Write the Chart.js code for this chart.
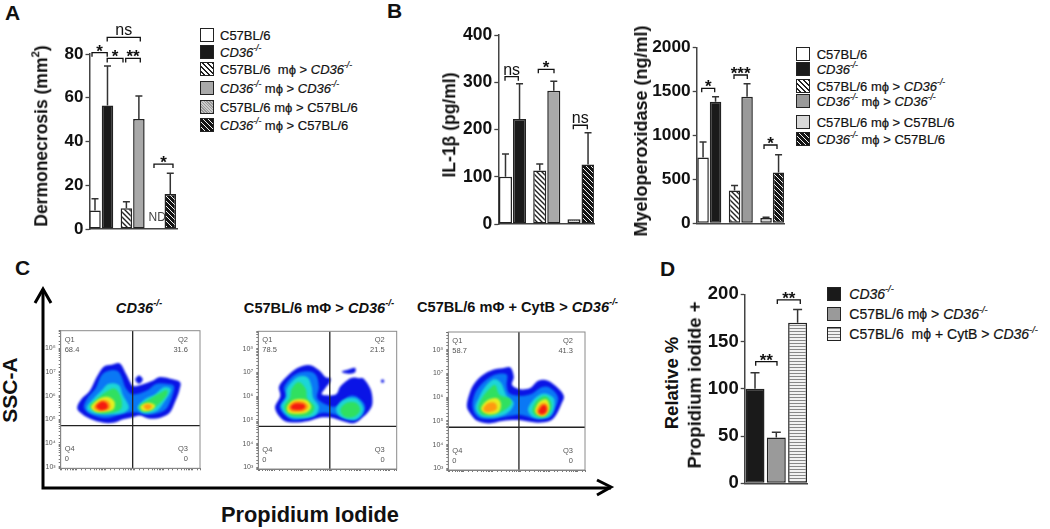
<!DOCTYPE html>
<html lang="en">
<head>
<meta charset="utf-8" />
<script src="https://cdn.jsdelivr.net/npm/chart.js@4"></script>
<style>
  html, body { margin: 0; padding: 0; background: #fff; }
  body { position: relative; width: 1050px; height: 529px; overflow: hidden; font-family: "Liberation Sans", Arial, sans-serif; color: #111; }
  canvas { position: absolute; }
  .t { position: absolute; white-space: nowrap; line-height: 1; }
  .panel { font-size: 21px; font-weight: bold; }
  .ytitle { font-weight: bold; transform: translate(-50%, -50%) rotate(-90deg); }
  .ptitle { font-size: 14.6px; font-weight: bold; transform: translate(-50%, -50%); }
  .leg { font-size: 13px; transform: translateY(-50%); -webkit-text-stroke: 0.2px #111; }
  .sw { position: absolute; width: 14px; height: 14px; box-sizing: border-box; border: 1.5px solid #222; transform: translateY(-50%); }
  sup { font-size: 65%; line-height: 0; position: relative; top: -0.1em; vertical-align: super; }
  svg { position: absolute; left: 0; top: 0; }
</style>
</head>
<body>
<svg width="1050" height="529">
  <path d="M43 289V488H611" fill="none" stroke="#000" stroke-width="3"/>
  <path d="M35 303L43 289L51 303M597 480L611 487L597 495" fill="none" stroke="#000" stroke-width="3"/>
</svg>
<script>
// bar values, groups of two bars (left / right)
var groups = ['wild type recipient', 'CD36 recipient', 'mixed'];
var necrosisLeft = [8.5, 9.5, 0];
var necrosisRight = [56.5, 50.3, 16];
var necrosisLeftErr = [5.3, 3, 0];
var necrosisRightErr = [18, 10.5, 9.5];
var il1Left = [100, 113, 10];
var il1Right = [222, 282, 126];
var il1LeftErr = [48, 14, 0];
var il1RightErr = [75, 20, 67];
var mpoLeft = [750, 375, 60];
var mpoRight = [1385, 1440, 580];
var mpoLeftErr = [175, 55, 8];
var mpoRightErr = [55, 150, 200];
var piValues = [100, 48.5, 170];
var piErr = [17, 5.5, 14];

// brackets: from, to (on the group axis), height (on the value axis), label
var bracketsA = [[0.706, 1.19, 80.6, '*'], [1.19, 2.244, 87.6, 'ns'], [1.19, 1.693, 78, '*'], [1.779, 2.244, 78, '**'], [2.68, 3.285, 29.7, '*']];
var bracketsB1 = [[0.781, 1.169, 311.7, 'ns'], [1.753, 2.211, 327.4, '*'], [2.775, 3.184, 209, 'ns']];
var bracketsB2 = [[0.759, 1.171, 1537, '*'], [1.784, 2.206, 1689, '***'], [2.737, 3.149, 892, '*']];
var bracketsD = [[1.032, 2.032, 128.7, '**'], [2.047, 3.126, 194, '**']];

// flow plots: contour level + outline as log10(x), log10(y) pairs, level 0 is the outermost
var flowCd36 = [
  [0, [2.02,5.52, 2.17,5.87, 2.46,6.22, 2.69,6.78, 2.92,7.21, 3.21,7.30, 3.49,7.35, 3.70,6.92, 3.84,6.57, 3.95,6.40, 4.24,6.46, 4.64,6.64, 4.87,6.78, 5.22,6.71, 5.56,6.57, 5.54,6.22, 5.39,5.73, 5.22,5.30, 4.93,5.09, 4.53,5.02, 4.18,5.16, 3.93,5.09, 3.61,5.00, 3.26,4.85, 2.92,4.85, 2.46,5.02, 2.11,5.30]],
  [0, [4.02,6.68, 4.15,6.85, 4.28,6.68, 4.15,6.50]],
  [1, [2.25,5.5, 2.4,5.95, 2.65,6.3, 2.85,6.85, 3.1,7.05, 3.4,7.05, 3.55,6.8, 3.7,6.3, 3.95,6.05, 4.4,6.2, 4.75,6.5, 5.1,6.5, 5.35,6.4, 5.3,6.0, 5.1,5.45, 4.8,5.25, 4.4,5.2, 3.95,5.3, 3.5,5.2, 3.0,5.05, 2.5,5.2]],
  [2, [2.35,5.5, 2.6,5.9, 2.85,6.2, 3.1,6.5, 3.45,6.45, 3.6,6.0, 3.8,5.5, 3.55,5.25, 3.0,5.2, 2.55,5.25]],
  [2, [4.1,5.5, 4.35,5.85, 4.7,6.05, 5.0,6.35, 5.25,6.25, 5.0,5.7, 4.75,5.35, 4.35,5.25]],
  [3, [2.45,5.55, 2.7,5.85, 3.0,6.15, 3.3,6.3, 3.5,6.0, 3.55,5.5, 3.3,5.3, 2.8,5.25]],
  [3, [4.15,5.55, 4.5,5.85, 4.85,6.1, 5.1,6.25, 5.1,6.0, 4.8,5.6, 4.5,5.35, 4.25,5.35]],
  [4, [2.5,5.55, 2.75,5.85, 3.05,5.95, 3.3,5.75, 3.25,5.4, 2.85,5.3, 2.6,5.35]],
  [4, [4.2,5.55, 4.45,5.7, 4.7,5.6, 4.6,5.4, 4.3,5.35]],
  [5, [2.6,5.55, 2.85,5.8, 3.1,5.75, 3.15,5.45, 2.85,5.35, 2.65,5.4]],
  [5, [4.3,5.55, 4.45,5.65, 4.6,5.55, 4.45,5.4]],
  [6, [2.68,5.58, 2.88,5.75, 3.05,5.65, 3.05,5.45, 2.85,5.38, 2.72,5.45]]
];
var flowC57 = [
  [0, [2.03,5.51, 2.21,6.00, 2.17,6.42, 2.44,6.83, 2.79,7.18, 3.20,7.32, 3.55,7.11, 3.78,6.81, 3.95,6.76, 3.92,6.56, 3.78,6.35, 3.66,6.07, 4.13,6.07, 4.30,6.42, 4.65,6.76, 4.94,6.76, 5.12,6.72, 5.35,6.28, 5.41,5.72, 5.29,5.38, 5.06,5.10, 4.77,4.86, 4.36,4.96, 3.95,5.10, 3.60,5.10, 3.20,4.96, 2.62,4.89, 2.27,5.03]],
  [0, [4.34,7.03, 4.55,7.12, 4.80,7.20, 4.80,7.0, 4.55,6.95]],
  [0, [5.70,6.64, 5.76,6.72, 5.82,6.64, 5.76,6.56]],
  [1, [2.2,5.5, 2.4,6.0, 2.35,6.4, 2.7,6.9, 3.15,7.05, 3.45,6.9, 3.55,6.4, 3.5,5.9, 3.9,5.6, 4.2,5.6, 4.6,6.0, 4.9,5.95, 5.15,5.6, 5.05,5.2, 4.7,5.0, 4.2,5.2, 3.7,5.3, 3.2,5.1, 2.6,5.02]],
  [2, [2.25,5.55, 2.42,5.95, 2.45,6.35, 2.8,6.8, 3.15,6.8, 3.3,6.4, 3.35,5.95, 3.55,5.55, 3.35,5.15, 2.6,5.1]],
  [2, [4.15,5.45, 4.4,5.85, 4.85,5.9, 5.1,5.45, 4.85,5.02, 4.35,5.1]],
  [3, [2.35,5.55, 2.55,5.95, 2.6,6.3, 2.85,6.6, 3.1,6.3, 3.15,5.9, 3.4,5.55, 3.2,5.2, 2.6,5.18]],
  [3, [4.3,5.45, 4.5,5.72, 4.85,5.72, 4.98,5.4, 4.75,5.12, 4.42,5.15]],
  [4, [2.45,5.55, 2.7,5.85, 3.1,5.85, 3.28,5.55, 3.05,5.28, 2.55,5.28]],
  [5, [2.5,5.57, 2.7,5.78, 3.05,5.75, 3.18,5.55, 3.0,5.36, 2.6,5.36]],
  [6, [2.58,5.57, 2.75,5.7, 3.0,5.68, 3.08,5.55, 2.95,5.43, 2.65,5.43]]
];
var flowCytB = [
  [0, [2.10,5.61, 2.20,6.17, 2.37,6.58, 2.66,6.93, 3.00,7.14, 3.34,7.21, 3.63,7.25, 3.75,6.86, 3.69,6.51, 3.98,6.33, 4.32,6.38, 4.61,6.69, 4.95,6.69, 5.30,6.38, 5.51,6.03, 5.41,5.68, 5.24,5.26, 5.01,4.99, 4.61,4.92, 4.15,4.99, 3.80,5.03, 3.34,4.99, 2.89,4.89, 2.48,4.99, 2.25,5.26]],
  [1, [2.3,5.6, 2.4,6.2, 2.7,6.65, 3.1,6.95, 3.5,6.95, 3.5,6.5, 3.6,6.15, 4.0,6.05, 4.4,6.15, 4.7,6.4, 5.0,6.4, 5.3,6.0, 5.2,5.5, 5.0,5.15, 4.5,5.1, 4.0,5.25, 3.6,5.2, 3.0,5.08, 2.5,5.15]],
  [2, [2.4,5.55, 2.55,6.05, 2.75,6.45, 3.05,6.75, 3.3,6.6, 3.5,6.05, 3.75,5.75, 3.55,5.35, 3.1,5.15, 2.6,5.2]],
  [2, [4.25,5.45, 4.45,5.9, 4.8,6.15, 5.15,5.95, 5.15,5.5, 4.95,5.15, 4.5,5.12]],
  [3, [2.5,5.55, 2.65,6.0, 2.9,6.35, 3.1,6.5, 3.25,6.1, 3.6,5.95, 3.65,5.7, 3.35,5.4, 3.0,5.25, 2.65,5.25]],
  [3, [4.4,5.45, 4.55,5.85, 4.85,6.05, 5.05,5.8, 5.05,5.45, 4.85,5.18, 4.55,5.2]],
  [4, [2.6,5.5, 2.8,5.85, 3.15,5.95, 3.3,5.7, 3.2,5.35, 2.85,5.28]],
  [4, [4.5,5.45, 4.65,5.8, 4.9,5.9, 5.0,5.55, 4.85,5.22, 4.6,5.25]],
  [5, [2.68,5.52, 2.85,5.75, 3.1,5.75, 3.15,5.5, 2.95,5.38, 2.75,5.38]],
  [5, [4.55,5.45, 4.7,5.72, 4.9,5.72, 4.95,5.45, 4.82,5.25, 4.62,5.28]],
  [6, [4.62,5.42, 4.75,5.65, 4.88,5.62, 4.9,5.4, 4.78,5.28, 4.66,5.3]]
];
var levelColors = ['#0a14e6', '#0a78f5', '#1cd6d8', '#30e060', '#e6f020', '#ff9a10', '#f41a10'];
var gateX = Math.pow(10, 3.93);
var gateY = Math.pow(10, 4.73);
var quadrantsCd36 = ['68.4', '31.6', '0', '0'];
var quadrantsC57 = ['78.5', '21.5', '0', '0'];
var quadrantsCytB = ['58.7', '41.3', '0', '0'];

var CD36 = '<i>CD36<sup>-/-</sup></i>';
var C57 = 'C57BL/6';

function tile(size, bg, draw) {
  var c = document.createElement('canvas');
  c.width = c.height = size;
  var g = c.getContext('2d');
  g.fillStyle = bg;
  g.fillRect(0, 0, size, size);
  draw(g, size);
  return document.createElement('canvas').getContext('2d').createPattern(c, 'repeat');
}
function diagonal(size, bg, fg, w) {
  return tile(size, bg, function (g, s) {
    g.strokeStyle = fg;
    g.lineWidth = w;
    g.beginPath();
    g.moveTo(-1, -1); g.lineTo(s + 1, s + 1);
    g.moveTo(-1, s - 1); g.lineTo(1, s + 1);
    g.moveTo(s - 1, -1); g.lineTo(s + 1, 1);
    g.stroke();
  });
}
var hatchWhite = diagonal(5, '#fff', '#222', 1.4);
var hatchBlack = diagonal(5, '#141414', '#f0f0f0', 1);
var dots = tile(2, '#ddd', function (g) { g.fillStyle = '#777'; g.fillRect(0, 0, 1, 1); });
var stripes = tile(3, '#f2f2f2', function (g) { g.fillStyle = '#888'; g.fillRect(0, 0, 3, 1); });

function noPadding(s) {
  s.paddingTop = s.paddingBottom = s.paddingLeft = s.paddingRight = 0;
}

// error bars, brackets and small notes, all placed through the chart's scales
var annotate = {
  id: 'annotate',
  afterDatasetsDraw: function (chart, args, opts) {
    var ctx = chart.ctx, xs = chart.scales.x, ys = chart.scales.y;
    ctx.save();
    ctx.strokeStyle = '#333';
    ctx.fillStyle = '#111';
    ctx.lineWidth = 1.5;
    chart.data.datasets.forEach(function (ds, d) {
      chart.getDatasetMeta(d).data.forEach(function (bar, i) {
        if (!ds.err || !ds.err[i]) return;
        var top = ys.getPixelForValue(ds.data[i].y + ds.err[i]);
        ctx.beginPath();
        ctx.moveTo(bar.x, bar.y);
        ctx.lineTo(bar.x, top);
        ctx.moveTo(bar.x - opts.cap, top);
        ctx.lineTo(bar.x + opts.cap, top);
        ctx.stroke();
      });
    });
    ctx.textAlign = 'center';
    ctx.strokeStyle = '#111';
    ctx.lineWidth = 1.3;
    opts.brackets.forEach(function (b) {
      var x0 = xs.getPixelForValue(b[0]), x1 = xs.getPixelForValue(b[1]), y = ys.getPixelForValue(b[2]);
      ctx.beginPath();
      ctx.moveTo(x0, y + 4);
      ctx.lineTo(x0, y);
      ctx.lineTo(x1, y);
      ctx.lineTo(x1, y + 4);
      ctx.stroke();
      if (b[3] === 'ns') {
        ctx.font = '16px "Liberation Sans"';
        ctx.fillText(b[3], (x0 + x1) / 2, y - 2);
      } else {
        ctx.font = 'bold 17px "Liberation Sans"';
        ctx.fillText(b[3], (x0 + x1) / 2, y + 4);
      }
    });
    if (opts.note) {
      ctx.font = '12px "Liberation Sans"';
      ctx.fillStyle = '#444';
      ctx.textBaseline = 'middle';
      ctx.fillText(opts.note[2], xs.getPixelForValue(opts.note[0]), ys.getPixelForValue(opts.note[1]));
    }
    ctx.restore();
  }
};

function barChart(box, cfg) {
  var c = document.createElement('canvas');
  c.style.left = box.left + 'px';
  c.style.top = box.top + 'px';
  c.width = box.width;
  c.height = box.height;
  document.body.appendChild(c);
  var datasets = cfg.series.map(function (s) {
    return {
      data: s.values.map(function (v, i) { return { x: i + 1, y: v }; }),
      err: s.err,
      backgroundColor: s.fills,
      borderColor: '#222',
      borderWidth: 1.5,
      borderSkipped: false,
      categoryPercentage: cfg.catPct,
      barPercentage: cfg.barPct
    };
  });
  return new Chart(c, {
    type: 'bar',
    data: { datasets: datasets },
    plugins: [annotate],
    options: {
      responsive: false,
      animation: false,
      layout: { padding: { top: box.pt, bottom: box.pb, left: 0, right: box.pr } },
      plugins: {
        legend: { display: false },
        tooltip: { enabled: false },
        annotate: { brackets: cfg.brackets, cap: cfg.cap, note: cfg.note }
      },
      scales: {
        x: {
          type: 'linear', offset: false, min: cfg.xMin, max: cfg.xMax,
          ticks: { display: false },
          grid: { display: false, drawTicks: false },
          border: { color: '#444', width: 1.5 },
          afterFit: function (s) { s.height = 0; noPadding(s); }
        },
        y: {
          min: 0, max: cfg.yMax,
          ticks: {
            stepSize: cfg.step, color: '#111', padding: 2,
            font: { family: 'Liberation Sans', size: cfg.font, weight: 'bold' },
            callback: function (v) { return String(v); }
          },
          grid: { drawOnChartArea: false, tickLength: 4, tickColor: '#444', tickWidth: 1.3 },
          border: { color: '#444', width: 1.5 },
          afterFit: function (s) { s.width = box.yw; noPadding(s); }
        }
      }
    }
  });
}

barChart({ left: 40, top: 20, width: 150, height: 220, pt: 34, pb: 11, pr: 13, yw: 49.5 }, {
  series: [
    { values: necrosisLeft, err: necrosisLeftErr, fills: ['#fff', hatchWhite, '#fff'] },
    { values: necrosisRight, err: necrosisRightErr, fills: ['#1a1a1a', '#a9a9a9', hatchBlack] }
  ],
  xMin: 0.626, xMax: 3.413, yMax: 80, step: 20, font: 17, catPct: 0.796, barPct: 0.92, cap: 3.5,
  brackets: bracketsA, note: [2.78, 5.4, 'ND']
});
barChart({ left: 450, top: 10, width: 160, height: 225, pt: 25, pb: 11, pr: 16, yw: 48.3 }, {
  series: [
    { values: il1Left, err: il1LeftErr, fills: ['#fff', hatchWhite, dots] },
    { values: il1Right, err: il1RightErr, fills: ['#1a1a1a', '#a9a9a9', hatchBlack] }
  ],
  xMin: 0.585, xMax: 3.379, yMax: 400, step: 100, font: 17.5, catPct: 0.82, barPct: 0.93, cap: 3.5,
  brackets: bracketsB1
});
barChart({ left: 640, top: 20, width: 155, height: 215, pt: 27.7, pb: 11.7, pr: 11, yw: 56.7 }, {
  series: [
    { values: mpoLeft, err: mpoLeftErr, fills: ['#fff', hatchWhite, '#d8d8d8'] },
    { values: mpoRight, err: mpoRightErr, fills: ['#1a1a1a', '#9a9a9a', hatchBlack] }
  ],
  xMin: 0.6, xMax: 3.371, yMax: 2000, step: 500, font: 17.3, catPct: 0.794, barPct: 0.92, cap: 3.5,
  brackets: bracketsB2
});
barChart({ left: 700, top: 280, width: 120, height: 215, pt: 14.3, pb: 11.7, pr: 12.3, yw: 44.7 }, {
  series: [{ values: piValues, err: piErr, fills: ['#1a1a1a', '#9a9a9a', stripes] }],
  xMin: 0.516, xMax: 3.474, yMax: 200, step: 50, font: 18.5, catPct: 1, barPct: 0.89, cap: 4.5,
  brackets: bracketsD
});

// density contours are filled behind the gates, softened so the levels run together
var contourFill = {
  id: 'contourFill',
  beforeDatasetsDraw: function (chart) {
    var ctx = chart.ctx, a = chart.chartArea;
    ctx.save();
    ctx.beginPath();
    ctx.rect(a.left, a.top, a.right - a.left, a.bottom - a.top);
    ctx.clip();
    ctx.filter = 'blur(1.3px)';
    chart.data.datasets.forEach(function (ds, d) {
      if (ds.level === undefined) return;
      var pts = chart.getDatasetMeta(d).data, n = pts.length;
      ctx.fillStyle = levelColors[ds.level];
      ctx.beginPath();
      ctx.moveTo(pts[0].x, pts[0].y);
      for (var i = 0; i < n; i++) {
        var p0 = pts[(i + n - 1) % n], p1 = pts[i], p2 = pts[(i + 1) % n], p3 = pts[(i + 2) % n];
        ctx.bezierCurveTo(p1.x + (p2.x - p0.x) / 6, p1.y + (p2.y - p0.y) / 6, p2.x - (p3.x - p1.x) / 6, p2.y - (p3.y - p1.y) / 6, p2.x, p2.y);
      }
      ctx.closePath();
      ctx.fill();
    });
    ctx.restore();
  },
  afterDatasetsDraw: function (chart, args, opts) {
    var ctx = chart.ctx, a = chart.chartArea, q = opts.quadrants;
    ctx.save();
    ctx.strokeStyle = '#8a8a8a';
    ctx.lineWidth = 1;
    ctx.strokeRect(a.left, a.top, a.right - a.left, a.bottom - a.top);
    ctx.fillStyle = '#555';
    ctx.font = '7.5px "Liberation Sans"';
    ctx.textAlign = 'left';
    ctx.fillText('Q1', a.left + 4, a.top + 11);
    ctx.fillText(q[0], a.left + 4, a.top + 21);
    ctx.fillText('Q4', a.left + 4, a.bottom - 17);
    ctx.fillText(q[3], a.left + 4, a.bottom - 7);
    ctx.textAlign = 'right';
    ctx.fillText('Q2', a.right - 12, a.top + 11);
    ctx.fillText(q[1], a.right - 12, a.top + 21);
    ctx.fillText('Q3', a.right - 12, a.bottom - 17);
    ctx.fillText(q[2], a.right - 12, a.bottom - 7);
    ctx.restore();
  }
};

var supDigits = { 2: '²', 3: '³', 4: '⁴', 5: '⁵', 6: '⁶', 7: '⁷', 8: '⁸' };
function decadeLabel(v) {
  var e = Math.log10(v);
  return Math.abs(e - Math.round(e)) < 1e-9 && supDigits[Math.round(e)] ? '10' + supDigits[Math.round(e)] : '';
}

function flowChart(box, contours, quadrants) {
  var c = document.createElement('canvas');
  c.style.left = box.left + 'px';
  c.style.top = box.top + 'px';
  c.width = box.width;
  c.height = box.height;
  document.body.appendChild(c);
  var datasets = contours.map(function (k) {
    var pts = [];
    for (var i = 0; i < k[1].length; i += 2) pts.push({ x: Math.pow(10, k[1][i]), y: Math.pow(10, k[1][i + 1]) });
    return { data: pts, level: k[0], showLine: false, pointRadius: 0 };
  });
  var gate = { showLine: true, pointRadius: 0, borderColor: '#222', borderWidth: 1.3 };
  var xMin = Math.pow(10, 1.45), xMax = Math.pow(10, 6.25), yMin = Math.pow(10, 2.93), yMax = Math.pow(10, 8.74);
  datasets.push(Object.assign({ data: [{ x: gateX, y: yMin }, { x: gateX, y: yMax }] }, gate));
  datasets.push(Object.assign({ data: [{ x: xMin, y: gateY }, { x: xMax, y: gateY }] }, gate));
  var small = { family: 'Liberation Sans', size: 7 };
  return new Chart(c, {
    type: 'scatter',
    data: { datasets: datasets },
    plugins: [contourFill],
    options: {
      responsive: false,
      animation: false,
      layout: { padding: { top: box.pt, bottom: box.pb, left: 0, right: box.pr } },
      plugins: { legend: { display: false }, tooltip: { enabled: false }, contourFill: { quadrants: quadrants } },
      scales: {
        x: {
          type: 'logarithmic', min: xMin, max: xMax,
          ticks: { callback: decadeLabel, autoSkip: false, maxRotation: 0, color: '#555', padding: 4, font: small },
          grid: { drawOnChartArea: false, tickLength: 2, tickColor: '#555', tickWidth: 0.8 },
          border: { color: '#777', width: 1 },
          afterFit: function (s) { s.height = 0; noPadding(s); }
        },
        y: {
          type: 'logarithmic', min: yMin, max: yMax,
          ticks: { callback: decadeLabel, autoSkip: false, color: '#555', padding: 3, font: small },
          grid: { drawOnChartArea: false, tickLength: 2, tickColor: '#555', tickWidth: 0.8 },
          border: { color: '#777', width: 1 },
          afterFit: function (s) { s.width = box.yw; noPadding(s); }
        }
      }
    }
  });
}
flowChart({ left: 30, top: 320, width: 180, height: 170, pt: 10.7, pb: 21.7, pr: 10, yw: 30.7 }, flowCd36, quadrantsCd36);
flowChart({ left: 228, top: 320, width: 180, height: 170, pt: 11.3, pb: 21, pr: 11.3, yw: 30.3 }, flowC57, quadrantsC57);
flowChart({ left: 418, top: 320, width: 180, height: 170, pt: 12, pb: 20, pr: 13, yw: 30.3 }, flowCytB, quadrantsCytB);

// text and legends
function addText(cls, html, left, top, size) {
  var d = document.createElement('div');
  d.className = 't ' + cls;
  d.innerHTML = html;
  d.style.left = left + 'px';
  d.style.top = top + 'px';
  if (size) d.style.fontSize = size + 'px';
  document.body.appendChild(d);
}
function addLegend(items, swatchX, textX, size) {
  items.forEach(function (it) {
    var s = document.createElement('div');
    s.className = 'sw';
    s.style.left = swatchX + 'px';
    s.style.top = it[2] + 'px';
    s.style.background = it[0];
    document.body.appendChild(s);
    addText('leg', it[1], textX, it[2], size);
  });
}
var cssHatchWhite = 'repeating-linear-gradient(45deg,#fff 0 2px,#222 2px 3.5px)';
var cssHatchBlack = 'repeating-linear-gradient(45deg,#141414 0 2.5px,#f0f0f0 2.5px 3.5px)';
var cssDots = 'repeating-linear-gradient(45deg,#999 0 1px,#ccc 1px 2px)';
var cssStripes = 'repeating-linear-gradient(0deg,#f2f2f2 0 2px,#888 2px 3px)';

addLegend([
  ['#fff', C57, 34.7],
  ['#1a1a1a', CD36, 51.7],
  [cssHatchWhite, C57 + ' &nbsp;m&#981; &gt; ' + CD36, 69.3],
  ['#a9a9a9', CD36 + ' m&#981; &gt; ' + CD36, 87.7],
  [cssDots, C57 + ' m&#981; &gt; ' + C57, 107.3],
  [cssHatchBlack, CD36 + ' m&#981; &gt; ' + C57, 125]
], 200, 220);
addLegend([
  ['#fff', C57, 53.7],
  ['#1a1a1a', CD36, 68.7],
  [cssHatchWhite, C57 + ' m&#981; &gt; ' + CD36, 86.3],
  ['#9a9a9a', CD36 + ' m&#981; &gt; ' + CD36, 101.3],
  ['#d8d8d8', C57 + ' m&#981; &gt; ' + C57, 122.3],
  [cssHatchBlack, CD36 + ' m&#981; &gt; ' + C57, 139]
], 795.7, 816.7);
addLegend([
  ['#1a1a1a', CD36, 294],
  ['#9a9a9a', C57 + ' m&#981; &gt; ' + CD36, 314.3],
  [cssStripes, C57 + ' &nbsp;m&#981; + CytB &gt; ' + CD36, 334.3]
], 827.3, 849.3, 14);

addText('panel', 'A', 5, 2);
addText('panel', 'B', 387, 0);
addText('panel', 'C', 15, 257);
addText('panel', 'D', 660, 258);
addText('ytitle', 'Dermonecrosis (mm<sup>2</sup>)', 42, 135.5, 17.5);
addText('ytitle', 'IL-1&beta; (pg/ml)', 450, 124.5, 17.5);
addText('ytitle', 'Myeloperoxidase (ng/ml)', 640.7, 130.5, 18);
addText('ytitle', 'Relative %', 672, 383, 18.5);
addText('ytitle', 'Propidium iodide +', 695, 384.5, 18.5);
addText('ytitle', 'SSC-A', 9, 390, 21);
addText('ptitle', 'Propidium Iodide', 310, 515, 21.8);
addText('ptitle', CD36, 139, 308);
addText('ptitle', 'C57BL/6 m&Phi; &gt; ' + CD36, 319, 308);
addText('ptitle', 'C57BL/6 m&Phi; + CytB &gt; ' + CD36, 517.5, 307);
</script>
</body>
</html>
